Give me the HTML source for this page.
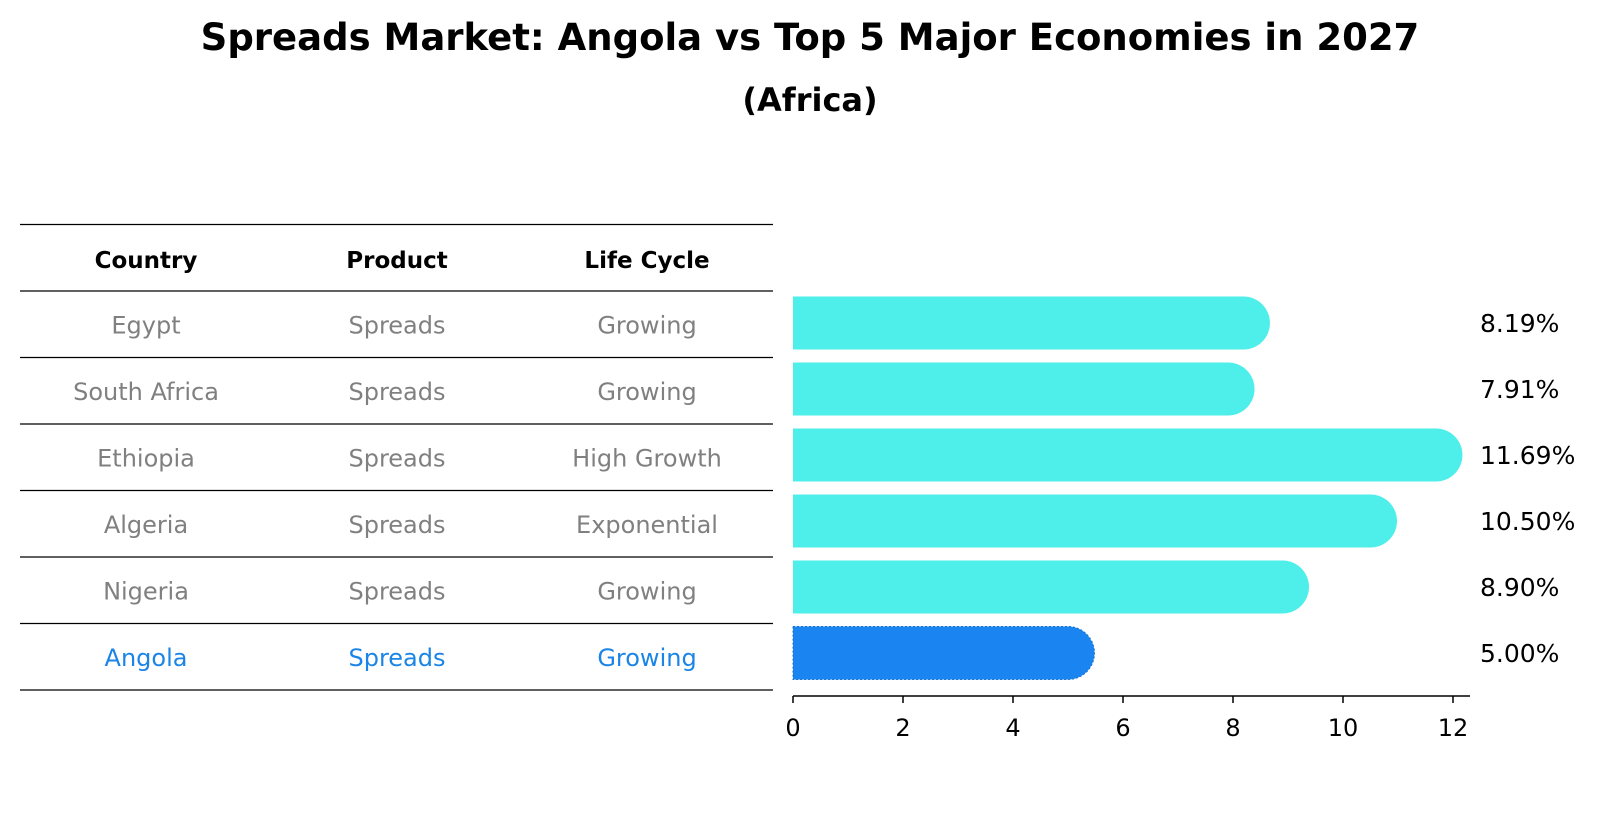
<!DOCTYPE html>
<html><head><meta charset="utf-8"><style>
body{margin:0;background:#fff;width:1604px;height:823px;overflow:hidden;font-family:"DejaVu Sans","Liberation Sans",sans-serif}
svg text{font-family:"DejaVu Sans","Liberation Sans",sans-serif}
</style></head><body>
<svg width="1604" height="823">
<text x="810" y="50" text-anchor="middle" font-size="37" font-weight="bold">Spreads Market: Angola vs Top 5 Major Economies in 2027</text>
<text x="810" y="111" text-anchor="middle" font-size="32" font-weight="bold">(Africa)</text>
<g id="table"></g>
<g id="bars"></g>
</svg>
<script>
const countries=["Egypt","South Africa","Ethiopia","Algeria","Nigeria","Angola"];
const products=["Spreads","Spreads","Spreads","Spreads","Spreads","Spreads"];
const cycles=["Growing","Growing","High Growth","Exponential","Growing","Growing"];
const values=[8.19,7.91,11.69,10.50,8.90,5.00];
const labels=["8.19%","7.91%","11.69%","10.50%","8.90%","5.00%"];
const ticks=[0,2,4,6,8,10,12];
const NS="http://www.w3.org/2000/svg";
function mk(p,t,a,txt){const e=document.createElementNS(NS,t);for(const k in a)e.setAttribute(k,a[k]);if(txt!==undefined)e.textContent=txt;p.appendChild(e);return e;}
const tb=document.getElementById('table');
const lineY=k=>224.5+66.5*k;
const colX=[146,397,647];
for(let k=0;k<8;k++){const l=mk(tb,'line',{x1:20,x2:773,y1:lineY(k),y2:lineY(k),stroke:'#000','stroke-width':1.2});

}
["Country","Product","Life Cycle"].forEach((h,j)=>{const t=mk(tb,'text',{x:colX[j],y:(lineY(0)+lineY(1))/2+10,'text-anchor':'middle','font-size':23,'font-weight':'bold'},h);

});
countries.forEach((c,i)=>{const col=i===countries.length-1?'#1a85e6':'#808080';
const y=(lineY(i+1)+lineY(i+2))/2+9;
[c,products[i],cycles[i]].forEach((v,j)=>{const t=mk(tb,'text',{x:colX[j],y:y,'text-anchor':'middle','font-size':24,fill:col},v);

});});
const bg=document.getElementById('bars');
const x0=793,pxPer=55;
const X=v=>x0+v*pxPer;
const Y=i=>323+i*66;
const r=26.5;
values.forEach((v,i)=>{const xe=X(v),yc=Y(i);const ang=i===values.length-1;
const p=mk(bg,'path',{d:`M${x0},${yc-r} L${xe},${yc-r} A${r},${r} 0 0 1 ${xe},${yc+r} L${x0},${yc+r} Z`,fill:ang?'#1a85f0':'#4eeeea',stroke:ang?'#1a70d0':'none','stroke-dasharray':ang?'2,2':'none'});


const t=mk(bg,'text',{x:1480,y:yc+9,'font-size':25},labels[i]);

});
const ax=mk(bg,'line',{x1:x0,x2:1470,y1:696,y2:696,stroke:'#000','stroke-width':1.5});


ticks.forEach(t=>{const l=mk(bg,'line',{x1:X(t),x2:X(t),y1:696,y2:703,stroke:'#000','stroke-width':1.5});


const tx=mk(bg,'text',{x:X(t),y:736,'text-anchor':'middle','font-size':24},String(t));

});
</script>
</body></html>
